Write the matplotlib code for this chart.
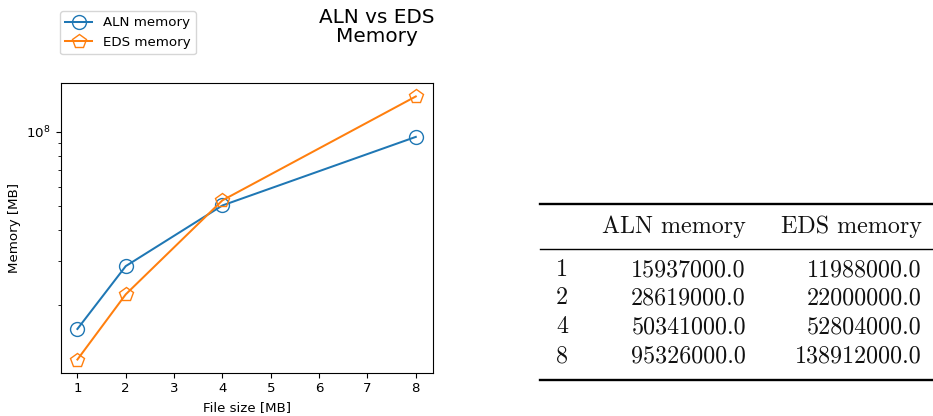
import numpy as np
import matplotlib
matplotlib.use("Agg")
import matplotlib.pyplot as plt
from matplotlib.lines import Line2D
from matplotlib.ticker import NullFormatter

file_sizes = [1, 2, 4, 8]
aln_memory = [15937000.0, 28619000.0, 50341000.0, 95326000.0]
eds_memory = [11988000.0, 22000000.0, 52804000.0, 138912000.0]
columns = ["ALN memory", "EDS memory"]

W, H = 933, 416
fs = 9.6
fig = plt.figure(figsize=(W / 100, H / 100), dpi=100)

def fx(px):
    return px / W

def fy(py):
    return 1 - py / H

ax = fig.add_axes([fx(60.5), fy(372.7), fx(432.7) - fx(60.5), fy(83.3) - fy(372.7)])
l1, = ax.plot(file_sizes, aln_memory, marker="o", markersize=10, fillstyle="none",
              color="#1f77b4", lw=1.45, label="ALN memory")
l2, = ax.plot(file_sizes, eds_memory, marker="p", markersize=10.5, fillstyle="none",
              color="#ff7f0e", lw=1.45, label="EDS memory")
ax.set_yscale("log")
ax.yaxis.set_minor_formatter(NullFormatter())
ax.set_xlabel("File size [MB]", fontsize=fs)
ax.set_ylabel("Memory [MB]", fontsize=fs)
ax.tick_params(labelsize=fs)

fig.legend(handles=[l1, l2], loc="upper left", bbox_to_anchor=(fx(60), fy(11)),
           fontsize=fs, borderaxespad=0)
fig.text(fx(377), fy(8), "ALN vs EDS\nMemory", ha="center", va="top",
         fontsize=14.4, linespacing=1.0)

# booktabs-style table of the same values
x0, x1 = fx(540), fx(933)
for ypx, lw in [(204, 1.7), (249, 1.0), (380, 1.7)]:
    fig.add_artist(Line2D([x0, x1], [fy(ypx), fy(ypx)], color="black", lw=lw))

tf = dict(family="cmr10", fontsize=17.3, va="center", color="#111111")
fig.text(fx(746), fy(227), columns[0], ha="right", **tf)
fig.text(fx(922), fy(227), columns[1], ha="right", **tf)
row_y = [270, 298, 327, 356]
for yp, s, a, e in zip(row_y, file_sizes, aln_memory, eds_memory):
    fig.text(fx(556), fy(yp), str(s), ha="left", **tf)
    fig.text(fx(746), fy(yp), f"{a:.1f}", ha="right", **tf)
    fig.text(fx(922), fy(yp), f"{e:.1f}", ha="right", **tf)

fig.savefig("out.png", dpi=100)
